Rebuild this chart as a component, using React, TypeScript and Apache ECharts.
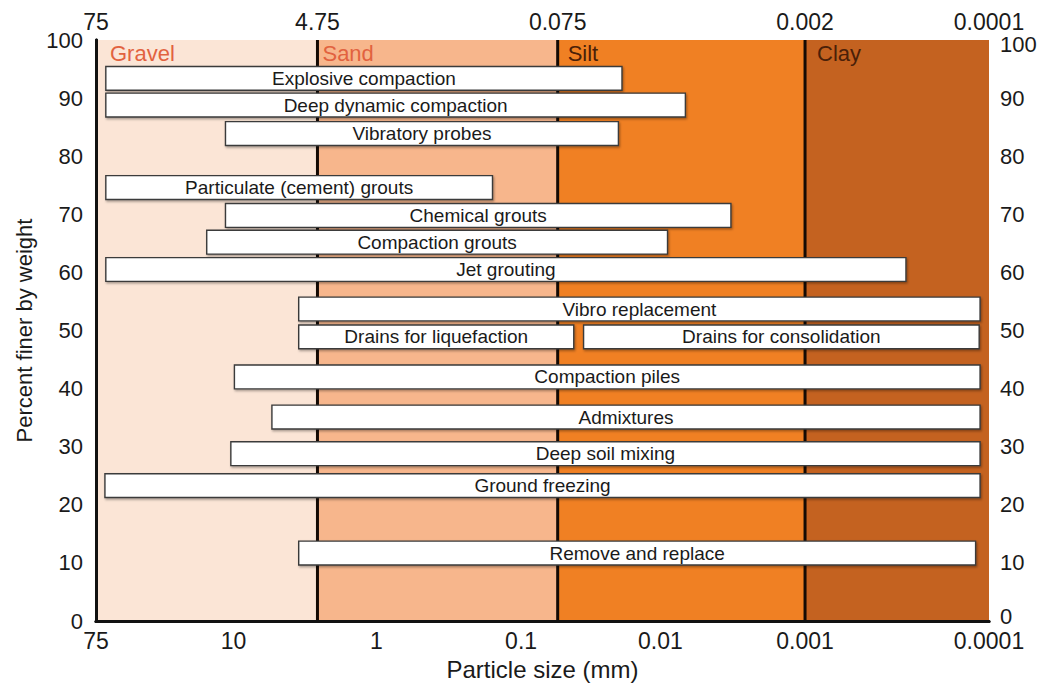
import React, { useEffect, useRef } from "react";
import * as echarts from "echarts";

// Horizontal axis is a schematic particle-size scale: 0 = 75 mm (left), 100 = 0.0001 mm (right)
const bottomTickLabels = ["75", "10", "1", "0.1", "0.01", "0.001", "0.0001"];
const bottomTickPos = [0, 15.4, 31.4, 47.6, 63.2, 79.4, 100];
const topTickLabels = ["75", "4.75", "0.075", "0.002", "0.0001"];
const topTickPos = [0, 24.8, 51.7, 79.4, 100];

const zoneNames = ["Gravel", "Sand", "Silt", "Clay"];
const zoneStart = [0, 24.8, 51.7, 79.4];
const zoneEnd = [24.8, 51.7, 79.4, 100];

const methods = [
  "Explosive compaction",
  "Deep dynamic compaction",
  "Vibratory probes",
  "Particulate (cement) grouts",
  "Chemical grouts",
  "Compaction grouts",
  "Jet grouting",
  "Vibro replacement",
  "Drains for liquefaction",
  "Drains for consolidation",
  "Compaction piles",
  "Admixtures",
  "Deep soil mixing",
  "Ground freezing",
  "Remove and replace",
];
const methodStart = [1.1, 1.1, 14.5, 1.1, 14.5, 12.4, 1.1, 22.7, 22.7, 54.6, 15.5, 19.7, 15.1, 1.0, 22.7];
const methodEnd = [58.9, 66.0, 58.5, 44.4, 71.1, 64.0, 90.7, 99.0, 53.5, 98.9, 99.0, 99.0, 99.0, 99.0, 98.5];
const methodLevel = [93.4, 88.8, 83.9, 74.6, 69.8, 65.2, 60.5, 53.7, 48.9, 48.9, 42.0, 35.1, 28.8, 23.3, 11.7];

// styles
const ZONE_COLORS = ["#fbe5d6", "#f7b68c", "#f08023", "#c46220"];
const ZONE_LABEL_COLORS = ["#e2623f", "#e2623f", "#4a2008", "#4a2008"];
const ZONE_LABEL_DX = [14, 5, 10, 12];
const BAR_HALF = 2.05;
const FONT = "'Liberation Sans', Arial, Helvetica, sans-serif";
const TEXT = "#1a1a1a";
const FRAME = "#111111";

function labelFor(pos: number[], labels: string[]) {
  return (v: number) => {
    let best = 0;
    for (let i = 1; i < pos.length; i++) {
      if (Math.abs(pos[i] - v) < Math.abs(pos[best] - v)) best = i;
    }
    return labels[best];
  };
}

export default function App() {
  const ref = useRef<HTMLDivElement>(null);

  useEffect(() => {
    if (!ref.current) return;
    const chart = echarts.init(ref.current, null, { renderer: "svg" });

    const zoneData = zoneNames.map((n, i) => [zoneStart[i], zoneEnd[i], n]);
    const barData = methods.map((m, i) => [methodStart[i], methodEnd[i], methodLevel[i], m]);

    const axisLineStyle = { show: true, lineStyle: { color: FRAME, width: 3 } };

    const option: any = {
      animation: false,
      backgroundColor: "#ffffff",
      grid: { left: 96, right: 58, top: 40, bottom: 64, containLabel: false, outerBoundsMode: "none" },
      xAxis: [
        {
          type: "value",
          position: "bottom",
          min: 0,
          max: 100,
          z: 10,
          axisLine: axisLineStyle,
          axisTick: { show: false },
          splitLine: { show: false },
          axisLabel: {
            customValues: bottomTickPos,
            formatter: labelFor(bottomTickPos, bottomTickLabels),
            fontSize: 23,
            fontFamily: FONT,
            color: TEXT,
            margin: 8,
          },
          name: "Particle size (mm)",
          nameLocation: "middle",
          nameGap: 36,
          nameTextStyle: { fontSize: 24, fontFamily: FONT, color: TEXT },
        },
        {
          type: "value",
          position: "top",
          min: 0,
          max: 100,
          z: 10,
          axisLine: axisLineStyle,
          axisTick: { show: false },
          splitLine: { show: false },
          axisLabel: {
            customValues: topTickPos,
            formatter: labelFor(topTickPos, topTickLabels),
            fontSize: 23,
            fontFamily: FONT,
            color: TEXT,
            margin: 7,
          },
        },
      ],
      yAxis: [
        {
          type: "value",
          position: "left",
          min: 0,
          max: 100,
          interval: 10,
          z: 10,
          axisLine: axisLineStyle,
          axisTick: { show: false },
          splitLine: { show: false },
          axisLabel: { fontSize: 22, fontFamily: FONT, color: TEXT, margin: 13 },
          name: "Percent finer by weight",
          nameLocation: "middle",
          nameRotate: 90,
          nameGap: 58,
          nameTextStyle: { fontSize: 22, fontFamily: FONT, color: TEXT },
        },
        {
          type: "value",
          position: "right",
          min: 0,
          max: 100,
          interval: 10,
          z: 10,
          axisLine: axisLineStyle,
          axisTick: { show: false },
          splitLine: { show: false },
          axisLabel: {
            fontSize: 22,
            fontFamily: FONT,
            color: TEXT,
            margin: 11,
            formatter: (v: number) => (v === 100 ? "{hi|100}" : v === 0 ? "{lo|0}" : String(v)),
            rich: {
              hi: { fontSize: 22, fontFamily: FONT, color: TEXT, padding: [8, 0, 0, 0] },
              lo: { fontSize: 22, fontFamily: FONT, color: TEXT, padding: [0, 0, 10, 0] },
            },
          },
        },
      ],
      series: [
        {
          type: "custom",
          name: "zones",
          xAxisIndex: 0,
          yAxisIndex: 0,
          z: 1,
          silent: true,
          encode: { x: [0, 1] },
          data: zoneData,
          renderItem: (params: any, api: any) => {
            const i = params.dataIndex;
            const s = api.value(0);
            const e = api.value(1);
            const p0 = api.coord([s, 100]);
            const p1 = api.coord([e, 0]);
            const children: any[] = [
              {
                type: "rect",
                shape: { x: p0[0], y: p0[1], width: p1[0] - p0[0], height: p1[1] - p0[1] },
                style: { fill: ZONE_COLORS[i] },
              },
              {
                type: "text",
                style: {
                  text: zoneNames[i],
                  x: p0[0] + ZONE_LABEL_DX[i],
                  y: p0[1] + 13,
                  align: "left",
                  verticalAlign: "middle",
                  fill: ZONE_LABEL_COLORS[i],
                  fontSize: 22,
                  fontFamily: FONT,
                },
              },
            ];
            if (s > 0) {
              children.push({
                type: "line",
                shape: { x1: p0[0], y1: p0[1], x2: p0[0], y2: p1[1] },
                style: { stroke: "#140a04", lineWidth: 3 },
              });
            }
            return { type: "group", children };
          },
        },
        {
          type: "custom",
          name: "methods",
          xAxisIndex: 0,
          yAxisIndex: 0,
          z: 3,
          silent: true,
          encode: { x: [0, 1], y: 2 },
          data: barData,
          renderItem: (params: any, api: any) => {
            const i = params.dataIndex;
            const x0 = api.value(0);
            const x1 = api.value(1);
            const lv = api.value(2);
            const tl = api.coord([x0, lv + BAR_HALF]);
            const br = api.coord([x1, lv - BAR_HALF]);
            const mid = api.coord([(x0 + x1) / 2, lv]);
            return {
              type: "group",
              children: [
                {
                  type: "rect",
                  shape: { x: tl[0], y: tl[1], width: br[0] - tl[0], height: br[1] - tl[1] },
                  style: {
                    fill: "#ffffff",
                    stroke: "#3a3a3a",
                    lineWidth: 1.4,
                    shadowColor: "rgba(0,0,0,0.35)",
                    shadowBlur: 2,
                    shadowOffsetX: 1,
                    shadowOffsetY: 1.5,
                  },
                },
                {
                  type: "text",
                  style: {
                    text: methods[i],
                    x: mid[0],
                    y: mid[1],
                    align: "center",
                    verticalAlign: "middle",
                    fill: TEXT,
                    fontSize: 19,
                    fontFamily: FONT,
                  },
                },
              ],
            };
          },
        },
      ],
    };

    chart.setOption(option);
    return () => {
      chart.dispose();
    };
  }, []);

  return (
    <div
      ref={ref}
      style={{ position: "absolute", left: 0, top: 0, width: 1047, height: 685, background: "#fff" }}
    />
  );
}
